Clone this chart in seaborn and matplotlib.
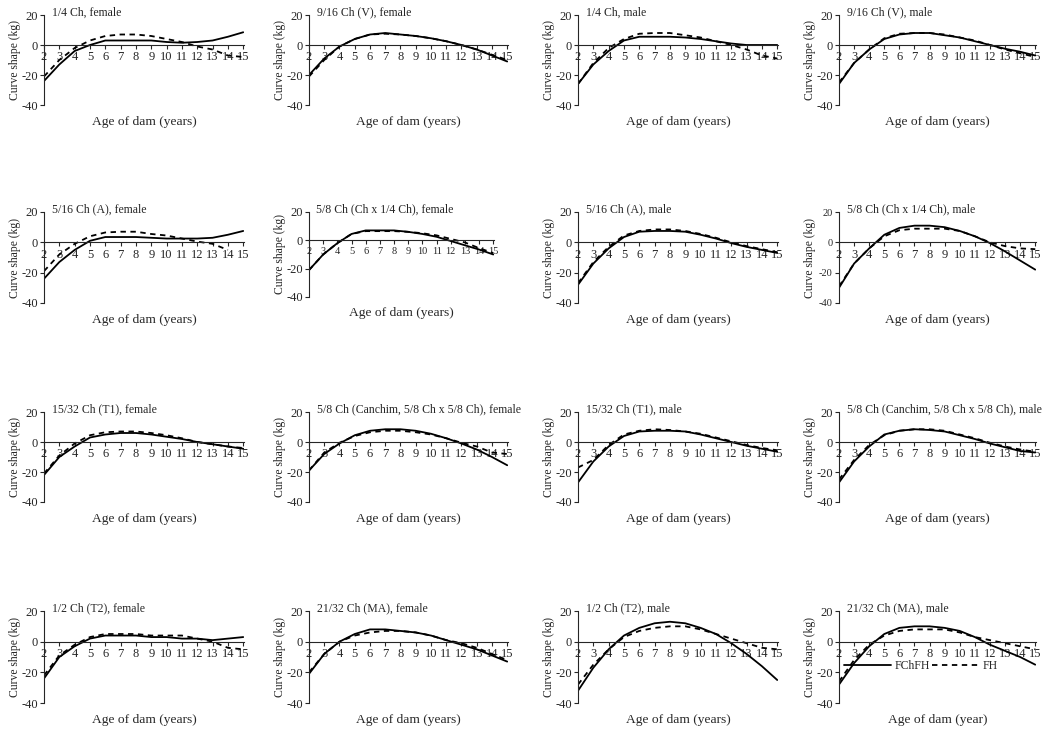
import numpy as np
import pandas as pd
import matplotlib
matplotlib.use("Agg")
import matplotlib.pyplot as plt
import seaborn as sns

# ---- data ----
ages = list(range(2, 16))

titles = [
    "1/4 Ch, female", "9/16 Ch (V), female", "1/4 Ch, male", "9/16 Ch (V), male",
    "5/16 Ch (A), female", "5/8 Ch (Ch x 1/4 Ch), female", "5/16 Ch (A), male", "5/8 Ch (Ch x 1/4 Ch), male",
    "15/32 Ch (T1), female", "5/8 Ch (Canchim, 5/8 Ch x 5/8 Ch), female", "15/32 Ch (T1), male",
    "5/8 Ch (Canchim, 5/8 Ch x 5/8 Ch), male",
    "1/2 Ch (T2), female", "21/32 Ch (MA), female", "1/2 Ch (T2), male", "21/32 Ch (MA), male",
]

fchfh = [
    [-24, -13, -4, 0, 3, 3, 3, 3, 2, 1.5, 2, 3, 5.5, 8.5],
    [-20, -9, -1, 4, 7, 8, 7, 6, 4.5, 2.5, 0, -3, -7, -11],
    [-26, -13, -4, 3, 5.5, 5.5, 5.5, 5, 4, 2.5, 1, 0, 0, 0],
    [-26, -12, -3, 4, 7, 8, 8, 6.5, 5, 2.5, 0, -2.5, -4.5, -7],
    [-24, -13, -5, 1, 3.5, 3.5, 3.5, 3, 2.5, 2.5, 2.5, 3, 5, 7.5],
    [-21, -10, -2, 4.5, 7, 7, 7, 6, 4.5, 2.5, -0.5, -3.5, -6.5, -10],
    [-28, -14, -4, 3.5, 7, 7.5, 7.5, 7, 5, 2.5, -0.5, -3, -5, -7],
    [-30, -14, -4, 5, 9.5, 11, 11, 10, 7.5, 4, -0.5, -6, -12, -18],
    [-22, -10, -3, 3, 5, 6, 6, 5, 3.5, 2, 0, -1.5, -3, -4.5],
    [-19, -8, -1, 4.5, 7.5, 8.5, 8.5, 7.5, 5.5, 2.5, -1, -5, -10, -15.5],
    [-27, -13, -3, 4, 7, 7.5, 7.5, 7, 5, 2.5, 0, -2.5, -4.5, -6.5],
    [-27, -13, -3, 5, 7.5, 8.5, 8, 7, 4.5, 2, -1, -3.5, -6, -7],
    [-24, -10, -3, 2, 4, 4, 4, 3, 3, 2, 2, 1, 2, 3],
    [-21, -8, 0, 5, 8, 8, 7, 6, 4, 1, -2, -5, -9, -13],
    [-32, -17, -5, 4, 9, 12, 13, 12, 9, 5, -1, -8, -16, -25],
    [-28, -14, -3, 5, 9, 10, 10, 9, 7, 3, -2, -6, -10, -15],
]

fh = [
    [-21, -10, -2, 3, 6, 7, 7, 6, 4, 2, -1, -3, -7, -8],
    [-21, -10, -1, 4, 7, 7.5, 7, 6, 4.5, 2.5, 0, -3, -6.5, -10],
    [-26, -12, -2, 4, 7.5, 8, 8, 6.5, 5, 2.5, 0, -3, -7, -9],
    [-25, -12, -3, 4.5, 7.5, 8, 8, 7, 5, 3, 0, -3, -5.5, -8],
    [-19, -8, -1, 4, 6.5, 7, 7, 5.5, 4.5, 2.5, 0.5, -1, -5, np.nan],
    [-21, -10, -2, 4.5, 6.5, 6.5, 6.5, 6, 5, 3.5, 1, -1.5, -5.5, -9],
    [-27, -13, -3, 4.5, 7.5, 8.5, 8.5, 7.5, 5.5, 3, 0, -2.5, -4.5, -6.5],
    [-29, -14, -4, 4, 8, 9, 9, 9, 7.5, 4, 0, -2.5, -4, -4.5],
    [-21, -9, -1, 4.5, 6.5, 7, 7, 6, 4.5, 2.5, 0, -1.5, -3, -4],
    [-19, -7, -0.5, 4, 6.5, 7.5, 7.5, 6.5, 5, 2.5, -0.5, -3, -7, -8],
    [-17, -12, -2, 5, 7.5, 8.5, 8, 7, 5.5, 3, 0.5, -2, -4, -5.5],
    [-25, -12, -2, 4.5, 7.5, 8.5, 8.5, 7.5, 5, 2.5, -0.5, -3, -5, -6.5],
    [-22, -9, -2, 3, 5, 5, 5, 4, 4, 4, 2, 0, -4, -5],
    [-20, -8, 0, 4, 6, 7, 7, 6, 4, 1, -1, -4, -8, -12],
    [-28, -15, -5, 3, 7, 9, 10, 10, 8, 5, 2, -1, -4, -5],
    [-26, -12, -2, 4, 7, 8, 8, 8, 6, 3, 1, -1, -3, -5],
]

yticks = [20, 0, -20, -40]

# ---- layout (pixels in a 1057x731 figure) ----
W, H = 1057, 731
col_left = [44, 309, 578, 839]
col_right = [244, 508, 778, 1036]
row_top = [15, 212, 412, 611]
row_bot = [105, 303, 502, 703]

sns.set_style("ticks")
plt.rcParams["font.family"] = ["Liberation Serif", "DejaVu Serif"]
plt.rcParams["axes.unicode_minus"] = False

fig = plt.figure(figsize=(W / 100, H / 100), dpi=100)

for i, title in enumerate(titles):
    r, c = divmod(i, 4)
    left, right = col_left[c], col_right[c]
    top, bot = row_top[r], row_bot[r]
    if i == 5:
        right, bot = 494, 297
    ax = fig.add_axes([left / W, 1 - bot / H, (right - left) / W, (bot - top) / H])

    df = pd.DataFrame({
        "age": ages * 2,
        "shape": fchfh[i] + fh[i],
        "model": ["FChFH"] * len(ages) + ["FH"] * len(ages),
    })
    sns.lineplot(data=df, x="age", y="shape", style="model", color="black",
                 dashes={"FChFH": "", "FH": (3, 2.5)}, linewidth=1.3,
                 legend=(i == 15), ax=ax)

    ax.set_xlim(2, 15.05)
    ax.set_ylim(-40, 20)
    ax.set_yticks(yticks)
    ax.set_xticks(ages)
    ax.spines["top"].set_visible(False)
    ax.spines["right"].set_visible(False)
    ax.spines["bottom"].set_position(("data", 0))
    ax.tick_params(axis="both", labelsize=9, length=3, width=0.8, pad=1.5)
    if i == 5:
        ax.tick_params(axis="x", labelsize=7.5)
    if i == 7:
        ax.tick_params(axis="y", labelsize=7.5)
    ax.set_xlabel("")
    ax.set_ylabel("")

    ax.text(0.04, 1.03, title, transform=ax.transAxes, fontsize=8.5, va="center", ha="left")
    # y label a fixed number of pixels left of the spine
    yl_x = -29.0 / (right - left)
    ax.text(yl_x, 0.5, "Curve shape (kg)", transform=ax.transAxes, fontsize=8.4,
            rotation=90, va="center", ha="center")
    xl = "Age of dam (year)" if i == 15 else "Age of dam (years)"
    ax.text(0.5, -0.19, xl, transform=ax.transAxes, fontsize=9.7, va="center", ha="center")

    if i == 15:
        ax.legend(loc="center left", bbox_to_anchor=(0.0, 0.40), ncol=2, frameon=False,
                  fontsize=8.5, handlelength=4.0, columnspacing=0.2, handletextpad=0.3,
                  borderaxespad=0)

fig.savefig("out.png", dpi=100)
